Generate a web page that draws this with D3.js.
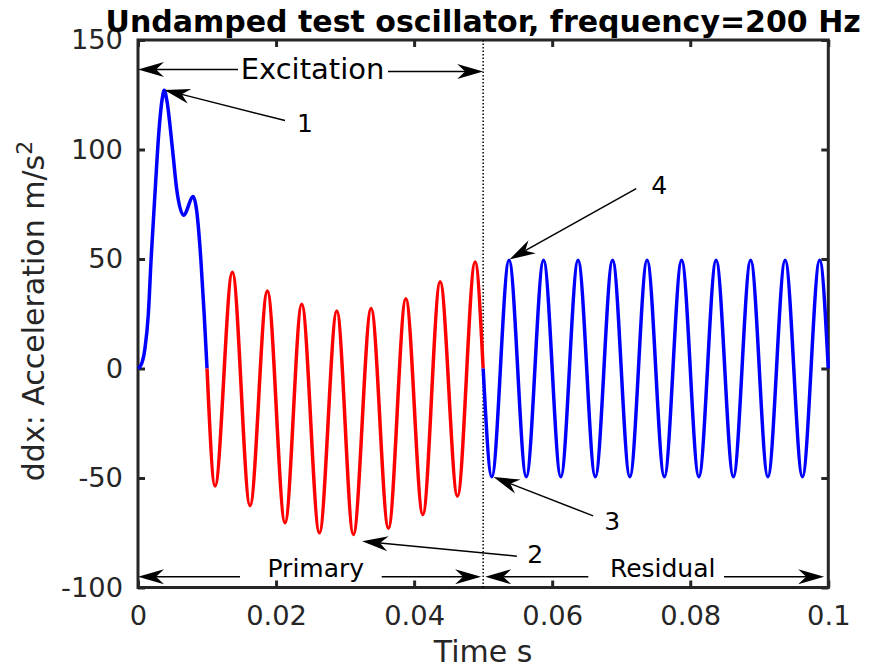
<!DOCTYPE html>
<html lang="en">
<head>
<meta charset="UTF-8">
<title>Undamped test oscillator</title>
<script src="https://d3js.org/d3.v7.min.js"></script>
<style>
  body { margin: 0; background: white; }
  svg text { font-family: "DejaVu Sans", sans-serif; }
  .axis path { display: none; }
  .axis line { stroke: #262626; stroke-width: 3px; }
  .axis text { fill: #262626; font-size: 27.3px; }
</style>
</head>
<body>
<svg id="chart" width="871" height="668"></svg>
<script>
// ---- data ----
// excitation part, 0 .. 0.01 s (blue)
var excT = [0, 0.0005, 0.001, 0.0015, 0.0019, 0.0025, 0.003, 0.0035, 0.0038, 0.0042, 0.005, 0.0056, 0.0066, 0.008, 0.0085, 0.0091, 0.0096, 0.01];
var excV = [0, 2, 9, 25, 50, 82, 107, 123, 127, 122, 100, 82, 70, 78.5, 72, 50, 24, 0];

// primary part, 0.01 .. 0.05 s (red), peaks and troughs
var primT = [0.01, 0.01116, 0.01367, 0.01623, 0.01874, 0.0213, 0.02372, 0.02628, 0.0288, 0.0312, 0.03377, 0.03628, 0.0388, 0.04126, 0.04377, 0.04628, 0.04884, 0.05];
var primV = [0, -53.6, 44.0, -62.6, 35.4, -70.4, 29.3, -75.0, 26.3, -75.8, 27.4, -72.9, 31.9, -66.7, 39.6, -58.3, 48.6, 0];

// residual part, 0.05 .. 0.1 s (blue), peaks and troughs
var resT = [0.05, 0.05125, 0.05375, 0.05625, 0.05875, 0.06125, 0.06375, 0.06625, 0.06875, 0.07125, 0.07375,
            0.07625, 0.07875, 0.08125, 0.08375, 0.08625, 0.08875, 0.09125, 0.09375, 0.09625, 0.09875, 0.1];
var resV = [0, -49.4, 49.4, -49.4, 49.4, -49.4, 49.4, -49.4, 49.4, -49.4, 49.4,
            -49.4, 49.4, -49.4, 49.4, -49.4, 49.4, -49.4, 49.4, -49.4, 49.4, 0];

var xTicks = [0, 0.02, 0.04, 0.06, 0.08, 0.1];
var xTickLabels = ["0", "0.02", "0.04", "0.06", "0.08", "0.1"];
var yTicks = [-100, -50, 0, 50, 100, 150];
var yTickLabels = ["-100", "-50", "0", "50", "100", "150"];

// numbered arrows: [label, tipT, tipV, tailT, tailV, labelT, labelV]
var notes = [
  ["1", 0.00381, 127.2, 0.0213, 113.2, 0.0242, 112.2],
  ["2", 0.03246, -78.9, 0.05488, -85.7, 0.05754, -84.9],
  ["3", 0.0515, -49.6, 0.06594, -67.3, 0.0687, -69.6],
  ["4", 0.05381, 49.8, 0.07217, 82.1, 0.0755, 84.0]
];

var svg = d3.select("#chart");
var padL = 138, padR = 828.3, padT = 40, padB = 587.5;

var x = d3.scaleLinear().domain([0, 0.1]).range([padL, padR]);
var y = d3.scaleLinear().domain([-100, 150]).range([padB, padT]);

// axes
svg.append("g").attr("class", "axis")
  .attr("transform", "translate(0," + padB + ")")
  .call(d3.axisBottom(x).tickValues(xTicks).tickSizeInner(-7).tickSizeOuter(0).tickPadding(18)
    .tickFormat(function(d, i) { return xTickLabels[i]; }));
svg.append("g").attr("class", "axis")
  .attr("transform", "translate(0," + padT + ")")
  .call(d3.axisTop(x).tickValues(xTicks).tickSizeInner(-7).tickSizeOuter(0).tickFormat(""));
svg.append("g").attr("class", "axis")
  .attr("transform", "translate(" + padL + ",0)")
  .call(d3.axisLeft(y).tickValues(yTicks).tickSizeInner(-7).tickSizeOuter(0).tickPadding(15)
    .tickFormat(function(d, i) { return yTickLabels[i]; }));
svg.append("g").attr("class", "axis")
  .attr("transform", "translate(" + padR + ",0)")
  .call(d3.axisRight(y).tickValues(yTicks).tickSizeInner(-7).tickSizeOuter(0).tickFormat(""));

svg.append("rect")
  .attr("x", padL).attr("y", padT)
  .attr("width", padR - padL).attr("height", padB - padT)
  .style("fill", "none").style("stroke", "#262626").style("stroke-width", "3px");

// dotted separator at 0.05 s
svg.append("line")
  .attr("x1", x(0.05)).attr("x2", x(0.05))
  .attr("y1", padT).attr("y2", padB)
  .style("stroke", "black").style("stroke-width", "1.5px").style("stroke-dasharray", "1.5,2");

// curves
var line = d3.line()
  .x(function(d) { return x(d[0]); })
  .y(function(d) { return y(d[1]); })
  .curve(d3.curveMonotoneX);

function pairs(t, v) { return t.map(function(d, i) { return [d, v[i]]; }); }

svg.append("path").datum(pairs(excT, excV)).attr("d", line)
  .style("fill", "none").style("stroke", "#0000ff").style("stroke-width", "3.5px");
svg.append("path").datum(pairs(primT, primV)).attr("d", line)
  .style("fill", "none").style("stroke", "#ff0000").style("stroke-width", "3.5px");
svg.append("path").datum(pairs(resT, resV)).attr("d", line)
  .style("fill", "none").style("stroke", "#0000ff").style("stroke-width", "3.5px");

// arrows
var headL = 26, headW = 15, notch = 18;

function arrow(x1, y1, x2, y2) {
  // from (x1,y1) to tip (x2,y2)
  var a = Math.atan2(y2 - y1, x2 - x1);
  var nx = x2 - notch * Math.cos(a), ny = y2 - notch * Math.sin(a);
  svg.append("line")
    .attr("x1", x1).attr("y1", y1).attr("x2", nx).attr("y2", ny)
    .style("stroke", "black").style("stroke-width", "1.5px");
  svg.append("path")
    .attr("d", "M0,0L" + (-headL) + "," + (-headW / 2) + "L" + (-notch) + ",0L" + (-headL) + "," + (headW / 2) + "Z")
    .attr("transform", "translate(" + x2 + "," + y2 + ") rotate(" + (a * 180 / Math.PI) + ")")
    .style("fill", "black");
}

notes.forEach(function(n) {
  arrow(x(n[3]), y(n[4]), x(n[1]), y(n[2]));
  svg.append("text")
    .attr("x", x(n[5])).attr("y", y(n[6]))
    .attr("text-anchor", "middle").attr("dy", "0.36em")
    .style("font-size", "25px").style("fill", "black")
    .text(n[0]);
});

// span arrows with text
arrow(238, 69.5, x(0), 69.5);
arrow(388, 71.5, x(0.05), 71.5);
svg.append("text").attr("x", 312.5).attr("y", 79.3).attr("text-anchor", "middle")
  .style("font-size", "29px").style("fill", "black").text("Excitation");

var spanY = y(-95.1);
arrow(240, spanY, x(0), spanY);
arrow(381.7, spanY, x(0.0497), spanY);
svg.append("text").attr("x", 315.8).attr("y", 577.3).attr("text-anchor", "middle")
  .style("font-size", "25px").style("fill", "black").text("Primary");

arrow(588.3, spanY, x(0.0503), spanY);
arrow(724, spanY, x(0.0994), spanY);
svg.append("text").attr("x", 662.7).attr("y", 577.3).attr("text-anchor", "middle")
  .style("font-size", "25px").style("fill", "black").text("Residual");

// titles
svg.append("text").attr("x", (padL + padR) / 2).attr("y", 31.7).attr("text-anchor", "middle")
  .style("font-size", "30px").style("font-weight", "bold").style("fill", "black")
  .text("Undamped test oscillator, frequency=200 Hz");

svg.append("text").attr("x", (padL + padR) / 2).attr("y", 662).attr("text-anchor", "middle")
  .style("font-size", "30px").style("fill", "#262626").text("Time s");

var yl = svg.append("text")
  .attr("transform", "translate(44," + 311 + ") rotate(-90)")
  .attr("text-anchor", "middle")
  .style("font-size", "30px").style("fill", "#262626");
yl.append("tspan").text("ddx: Acceleration m/s");
yl.append("tspan").attr("dy", "-0.55em").style("font-size", "22px").text("2");
</script>
</body>
</html>
